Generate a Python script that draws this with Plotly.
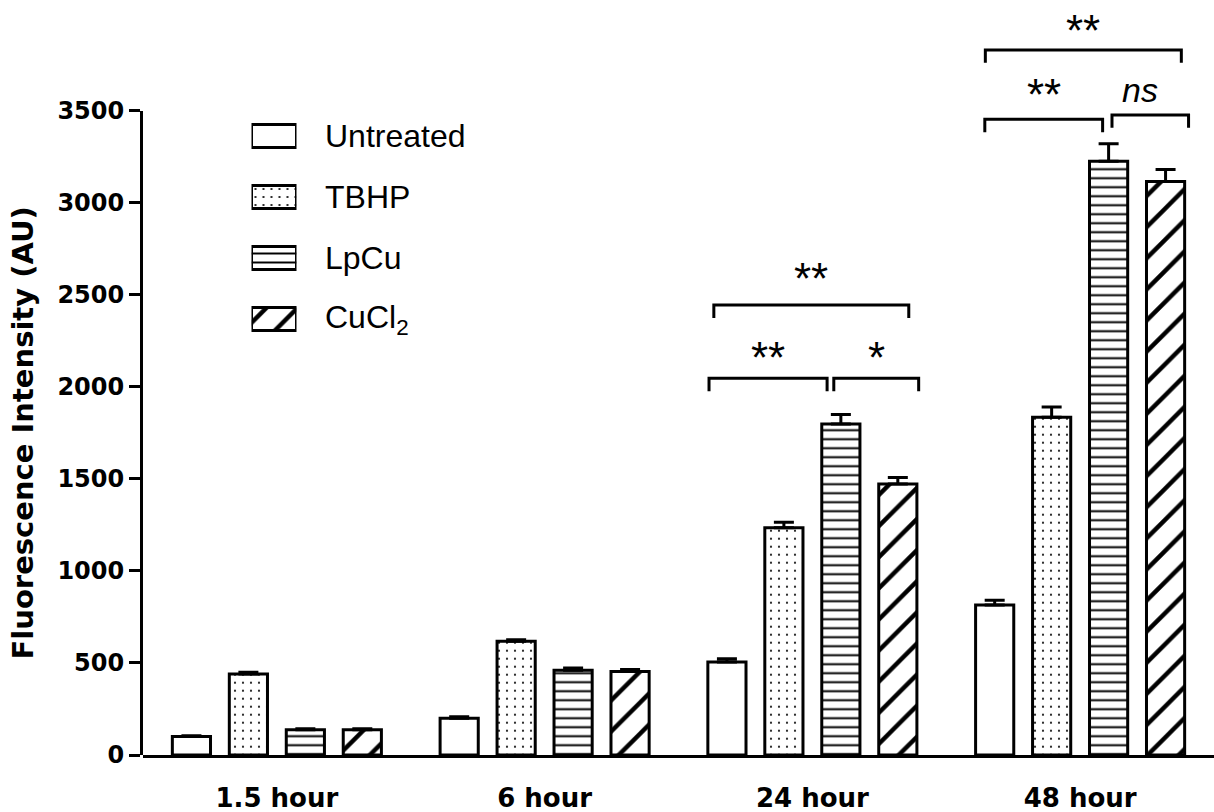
import plotly.graph_objects as go

# ---------------- data ----------------
categories = ["1.5 hour", "6 hour", "24 hour", "48 hour"]
series_names = ["Untreated", "TBHP", "LpCu", "CuCl<sub>2</sub>"]
untreated = [100, 200, 505, 815]
untreated_err = [5, 8, 18, 25]
tbhp = [440, 618, 1235, 1835]
tbhp_err = [10, 8, 30, 55]
lpcu = [137, 460, 1798, 3225]
lpcu_err = [6, 12, 52, 95]
cucl2 = [137, 453, 1472, 3115]
cucl2_err = [5, 12, 35, 65]
y_ticks = [0, 500, 1000, 1500, 2000, 2500, 3000, 3500]

# significance brackets: (category index, x-from offset, x-to offset, bracket level, label, label level, label x offset)
brackets = [
    (2, -0.386, 0.055, 2046, "**", 2200, -0.165),
    (2, 0.080, 0.397, 2046, "*", 2200, 0.238),
    (2, -0.368, 0.360, 2444, "**", 2625, -0.004),
    (3, -0.356, 0.084, 3453, "**", 3626, -0.136),
    (3, 0.119, 0.405, 3477, "<i>ns</i>", 3615, 0.225),
    (3, -0.354, 0.378, 3830, "**", 3975, 0.012),
]
bracket_drop = 70

values = [untreated, tbhp, lpcu, cucl2]
errors = [untreated_err, tbhp_err, lpcu_err, cucl2_err]
patterns = [
    dict(shape="", size=8, solidity=0.1),
    dict(shape=".", size=8, solidity=0.06),
    dict(shape="-", size=9, solidity=0.22),
    dict(shape="/", size=22, solidity=0.2),
]

# ---------------- layout geometry ----------------
W, H = 1214, 812
ML, MB = 143, 57
plot_h = H - MB
y_axis_top_px = 110.7
frac = (plot_h - y_axis_top_px) / plot_h
y_max_full = y_ticks[-1] / frac

# legend block geometry (pixels from top of plot area)
leg_top_px, leg_bot_px = 105, 350
leg_first_px, leg_step_px = 136, 61

BOLD = "DejaVu Sans"
REG = "Liberation Sans, Arial"

fig = go.Figure()
x_idx = list(range(len(categories)))

for name, vals, errs, pat in zip(series_names, values, errors, patterns):
    fig.add_trace(go.Bar(
        x=x_idx, y=vals, name=name, xaxis="x", yaxis="y2",
        marker=dict(color="white", line=dict(color="black", width=3),
                    pattern=dict(shape=pat["shape"], size=pat["size"], solidity=pat["solidity"],
                                 fgcolor="black", bgcolor="white", fillmode="replace", fgopacity=1)),
        error_y=dict(type="data", symmetric=False, array=errs, arrayminus=[0] * len(errs),
                     color="black", thickness=3, width=10),
        showlegend=False,
    ))

# invisible anchor trace for the full-height annotation axis
fig.add_trace(go.Scatter(x=[0], y=[0], xaxis="x", yaxis="y", mode="markers",
                         marker=dict(opacity=0), showlegend=False, hoverinfo="skip"))

# custom legend swatches (bars on their own small axes)
sw_h = 23 / leg_step_px
for i, (name, pat) in enumerate(zip(series_names, patterns)):
    fig.add_trace(go.Bar(
        x=[0], y=[sw_h], base=[i - sw_h / 2], width=[1], offset=[-0.5],
        xaxis="x3", yaxis="y3",
        marker=dict(color="white", line=dict(color="black", width=3),
                    pattern=dict(shape=pat["shape"], size=pat["size"], solidity=pat["solidity"],
                                 fgcolor="black", bgcolor="white", fillmode="replace", fgopacity=1)),
        showlegend=False, hoverinfo="skip",
    ))
    fig.add_annotation(x=(323 - ML) / (W - ML), xref="paper", xanchor="left",
                       y=i, yref="y3", yanchor="middle", text=name, showarrow=False,
                       font=dict(family=REG, size=32, color="black"))

# brackets and labels
for cat, a, b, lvl, lab, lab_lvl, lab_x in brackets:
    x0, x1 = cat + a, cat + b
    fig.add_shape(type="path",
                  path=f"M{x0},{lvl - bracket_drop} L{x0},{lvl} L{x1},{lvl} L{x1},{lvl - bracket_drop}",
                  xref="x", yref="y", line=dict(color="black", width=3))
    is_star = "*" in lab
    fig.add_annotation(x=cat + lab_x, y=lab_lvl, xref="x", yref="y", text=lab, showarrow=False,
                       yanchor="middle", yshift=-7 if is_star else 0,
                       font=dict(family=REG, size=44 if is_star else 34, color="black"))

fig.update_layout(
    width=W, height=H,
    margin=dict(l=ML, r=0, t=0, b=MB, pad=0, autoexpand=False),
    paper_bgcolor="white", plot_bgcolor="rgba(0,0,0,0)",
    barmode="group", bargap=0.149, bargroupgap=0.33,
    showlegend=False,
    xaxis=dict(range=[-0.5, 3.5], tickvals=x_idx, ticktext=categories, anchor="y", automargin=False,
               showline=True, linewidth=3, linecolor="black", showgrid=False, zeroline=False,
               ticks="outside", ticklen=18, tickcolor="rgba(0,0,0,0)",
               tickfont=dict(family=BOLD, size=26, color="black", weight="bold")),
    yaxis=dict(range=[0, y_max_full], visible=False, anchor="x", domain=[0, 1], automargin=False),
    yaxis2=dict(range=[0, y_ticks[-1]], domain=[0, frac], anchor="x", automargin=False,
                tickvals=y_ticks, ticks="outside", ticklen=11, tickwidth=3, tickcolor="black",
                showline=True, linewidth=3, linecolor="black", showgrid=False, zeroline=False,
                tickfont=dict(family=BOLD, size=24, color="black", weight="bold"),
                title=dict(text="Fluorescence Intensity (AU)", standoff=16,
                           font=dict(family=BOLD, size=29, color="black", weight="bold"))),
    xaxis3=dict(domain=[(251.5 - ML) / (W - ML), (296.5 - ML) / (W - ML)], range=[-0.5, 0.5],
                anchor="y3", visible=False, automargin=False),
    yaxis3=dict(domain=[(plot_h - leg_bot_px) / plot_h, (plot_h - leg_top_px) / plot_h],
                range=[(leg_bot_px - leg_first_px) / leg_step_px, (leg_top_px - leg_first_px) / leg_step_px],
                anchor="x3", visible=False, automargin=False),
)

fig.write_html("out.html")
